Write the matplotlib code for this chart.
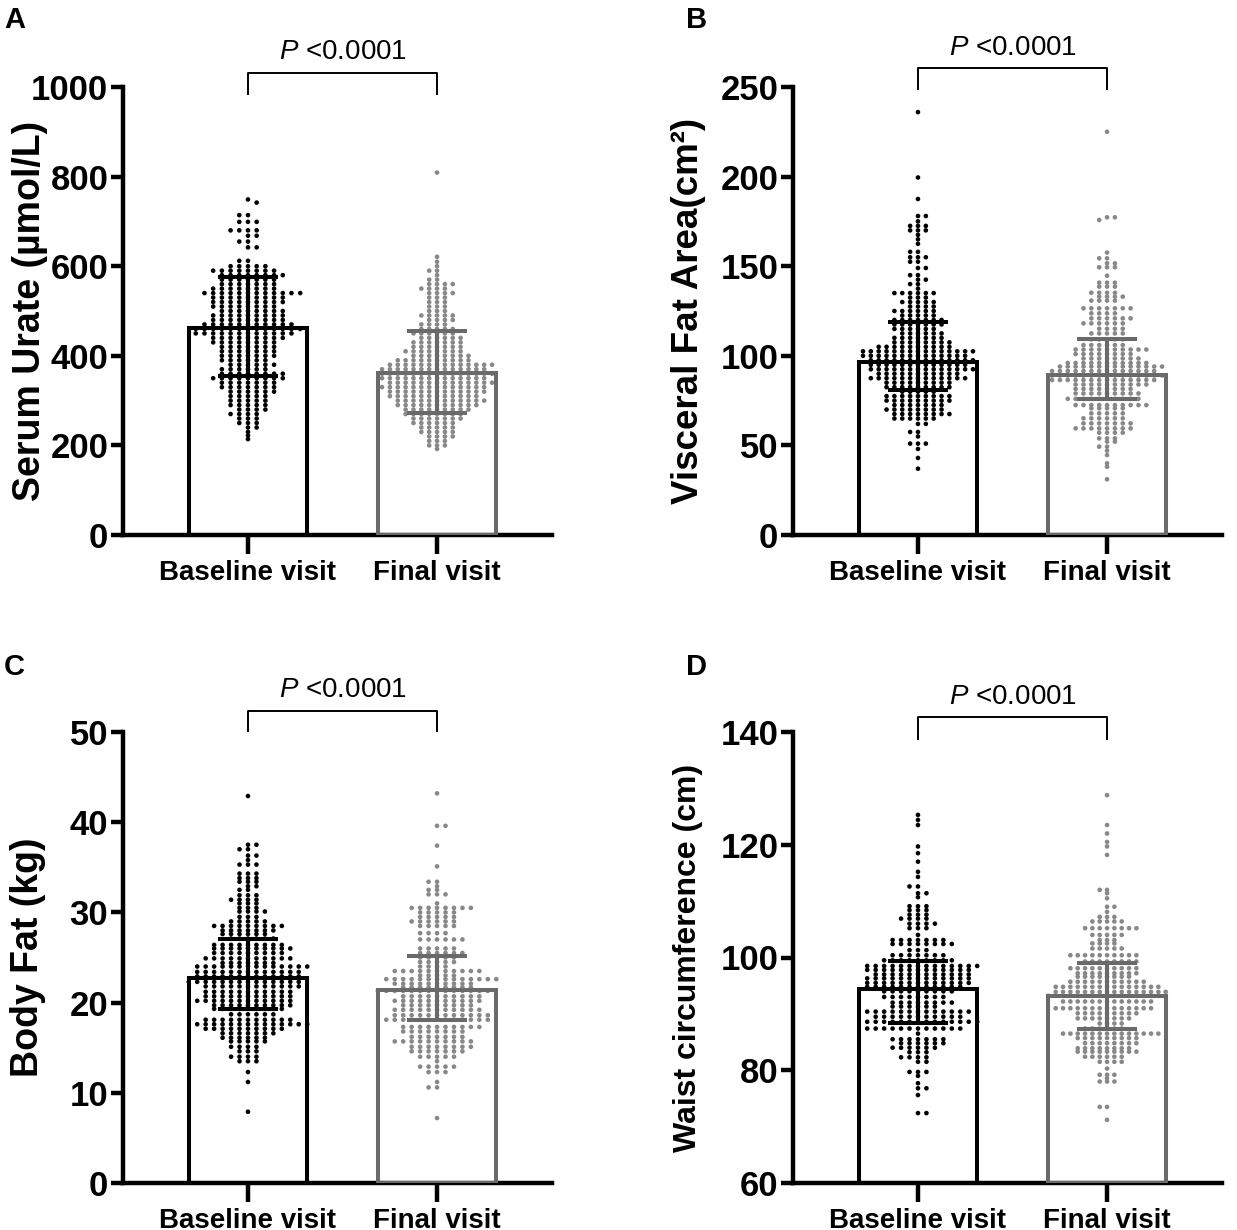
import numpy as np
import matplotlib
matplotlib.use('Agg')
import matplotlib.pyplot as plt

plt.rcParams['font.family'] = ['Liberation Sans', 'DejaVu Sans']
plt.rcParams['mathtext.fontset'] = 'custom'
plt.rcParams['mathtext.it'] = 'Liberation Sans:italic'
plt.rcParams['mathtext.rm'] = 'Liberation Sans'

W, H = 1237, 1230
groups = ['Baseline visit', 'Final visit']

# ---- values: dot levels and number of dots at each level ----
# A: serum urate (umol/L)
urate_base_levels = [749, 742, 714, 699, 680, 668, 655, 642, 612,
                     600, 590, 580, 570, 560, 550, 540, 530, 520, 510, 500, 490, 480, 470, 460,
                     450, 440, 430, 420, 410, 400, 390, 380, 370, 360, 350, 340, 330, 320, 310,
                     300, 290, 280, 270, 260, 250, 240, 230, 222, 214]
urate_base_counts = [1, 1, 2, 3, 4, 2, 2, 2, 2,
                     5, 8, 8, 7, 7, 8, 12, 9, 9, 8, 8, 9, 9, 11, 13,
                     12, 9, 8, 7, 7, 7, 6, 6, 6, 8, 9, 7, 7, 6, 5,
                     5, 5, 4, 4, 3, 3, 2, 1, 1, 1]
urate_final_levels = [809, 621, 610, 600, 590, 580, 570, 560, 550, 540, 530, 520, 510, 500,
                      490, 480, 470, 460, 450, 440, 430, 420, 410, 400, 390, 380, 370, 360,
                      350, 340, 330, 320, 310, 300, 290, 280, 270, 260, 250, 240, 230, 220,
                      210, 200, 192]
urate_final_counts = [1, 1, 1, 1, 2, 1, 2, 4, 4, 4, 3, 3, 3, 3,
                      5, 4, 4, 5, 6, 6, 7, 7, 8, 8, 10, 14, 14, 15,
                      14, 14, 14, 13, 12, 12, 11, 9, 8, 7, 6, 5, 5, 4,
                      3, 3, 1]
urate_bar = [463, 362]
urate_lo = [355, 273]
urate_hi = [577, 456]

# B: visceral fat area (cm2)
vfa_base_levels = [236, 199.5, 187.5, 178, 175, 172.5, 170, 167.5, 165, 162.5,
                   158, 155, 152.5, 149, 145, 142.5, 140, 137.5, 135, 132.5,
                   130, 127.5, 125, 122.5, 120, 117.5, 115, 112.5, 110, 107.5,
                   105, 102.5, 100, 97.5, 95, 92.5, 90, 87.5, 85, 82.5,
                   80, 77.5, 75, 72.5, 70, 67.5, 65, 62, 57.5, 55,
                   51, 48, 43, 37]
vfa_base_counts = [1, 1, 1, 2, 1, 3, 3, 1, 1, 1,
                   2, 3, 2, 2, 2, 2, 2, 1, 6, 3,
                   5, 4, 6, 5, 7, 7, 6, 6, 7, 8,
                   10, 15, 14, 14, 13, 14, 11, 13, 9, 9,
                   5, 9, 9, 7, 8, 8, 6, 2, 2, 1,
                   3, 1, 1, 1]
vfa_final_levels = [225, 177.3, 175.8, 157.6, 154.4, 151.6, 149.4, 144.7, 140.8, 138.6,
                    135.2, 133, 130.8, 126.5, 123.7, 120.9, 118.1, 115.1, 112.5, 109.2,
                    106, 103.5, 101, 98.5, 96, 94, 91.5, 89, 86.5, 84,
                    81.5, 79, 76, 72.5, 70.7, 67.9, 65.1, 62.3, 59.5, 57.1,
                    53.9, 52.1, 49.3, 47.1, 44.6, 40, 38.1, 31.1]
vfa_final_counts = [1, 2, 1, 1, 2, 2, 3, 1, 3, 3,
                    4, 4, 4, 7, 4, 6, 6, 4, 5, 5,
                    6, 10, 8, 8, 11, 14, 14, 15, 14, 10,
                    8, 9, 10, 10, 5, 5, 6, 7, 8, 4,
                    3, 2, 2, 1, 1, 1, 1, 1]
vfa_bar = [96.4, 89.3]
vfa_lo = [81, 75.7]
vfa_hi = [119, 109.2]

# C: body fat (kg)
fat_base_levels = [42.9, 37.5, 37, 36.3, 35.8, 35.3, 34.3, 33.8, 33.4, 32.9,
                   32.5, 31.9, 31.4, 31, 30.5, 30.1, 29.5, 29, 28.5, 28,
                   27.6, 27.1, 26.4, 26, 25.5, 24.9, 24.4, 24, 23.4, 22.9,
                   22.3, 21.8, 21.2, 20.7, 20.2, 19.7, 19.3, 18.7, 18.1, 17.6,
                   17.1, 16.6, 16.1, 15.7, 15.1, 14.6, 14, 13.5, 12.3, 11.2,
                   7.9]
fat_base_counts = [1, 2, 2, 2, 1, 3, 3, 3, 3, 2,
                   2, 3, 4, 3, 3, 4, 3, 5, 9, 7,
                   6, 6, 9, 10, 9, 11, 7, 14, 13, 13,
                   14, 12, 11, 11, 12, 10, 9, 6, 11, 14,
                   10, 7, 6, 5, 4, 3, 4, 3, 1, 1,
                   1]
fat_final_levels = [43.2, 39.6, 37.4, 35.1, 33.4, 32.9, 32.5, 32, 31, 30.5,
                    30, 29.5, 29, 28.5, 27.7, 27, 26, 25.5, 25, 24.5,
                    24, 23.5, 23, 22.6, 22.1, 21.7, 21.3, 20.7, 20.2, 19.7,
                    19.2, 18.6, 18.1, 17.3, 16.8, 16.2, 15.7, 15.1, 14.6, 14,
                    13.5, 12.9, 12.3, 11.2, 10.6, 7.2]
fat_final_counts = [1, 2, 1, 1, 2, 1, 2, 3, 1, 8,
                    5, 5, 6, 5, 4, 6, 5, 6, 5, 5,
                    4, 11, 5, 14, 10, 9, 14, 10, 11, 9,
                    11, 12, 13, 10, 8, 7, 10, 8, 7, 5,
                    1, 5, 3, 1, 2, 1]
fat_bar = [22.7, 21.4]
fat_lo = [19.3, 18.1]
fat_hi = [27.1, 25.2]

# D: waist circumference (cm)
waist_base_levels = [125.3, 124.4, 123.5, 119.7, 118.5, 117, 115.2, 114.3, 112.6, 111.4,
                     110.7, 109.1, 108.4, 107.6, 106.9, 106, 105.2, 104, 103.1, 102.4,
                     101.3, 100.4, 99.5, 98.5, 97.8, 97, 96.3, 95.5, 94.8, 94,
                     93, 92, 91.3, 90.4, 89.5, 88.6, 87.4, 86.5, 85.5, 84.8,
                     84, 83.2, 82.3, 81.5, 79.7, 79, 77.7, 76.8, 75.6, 72.4]
waist_base_counts = [1, 1, 1, 1, 1, 1, 1, 1, 2, 2,
                     1, 3, 3, 3, 4, 4, 3, 1, 7, 8,
                     3, 7, 9, 14, 13, 12, 13, 13, 12, 9,
                     8, 8, 6, 13, 11, 14, 12, 1, 7, 6,
                     6, 3, 4, 2, 3, 1, 1, 2, 1, 2]
waist_final_levels = [128.8, 123.5, 122, 120.5, 119.7, 118.2, 112, 111.4, 110.5, 109,
                      108.1, 107.2, 106.4, 105.2, 104, 103.1, 102.5, 101.6, 100.4, 99.3,
                      98.1, 97.2, 96.6, 95.7, 94.8, 93.9, 93.2, 92.2, 91, 90.1,
                      89.2, 88.3, 87.4, 86.5, 85.7, 84.8, 83.9, 83.3, 82.4, 81.5,
                      80.3, 79.2, 78.6, 78, 73.5, 71.2]
waist_final_counts = [1, 1, 1, 1, 1, 1, 2, 1, 1, 2,
                      1, 3, 5, 8, 5, 3, 4, 5, 10, 8,
                      10, 9, 8, 11, 15, 16, 16, 13, 14, 9,
                      8, 4, 6, 14, 9, 8, 8, 9, 6, 4,
                      1, 3, 1, 3, 2, 1]
waist_bar = [94.4, 93.1]
waist_lo = [88.4, 87.4]
waist_hi = [99.4, 99.1]

edge_cols = ['#000000', '#6a6a6a']
dot_cols = ['#000000', '#888888']

fig = plt.figure(figsize=(W / 100, H / 100), dpi=100)


def px_axes(l, t, r, b):
    return fig.add_axes([l / W, 1 - b / H, (r - l) / W, (b - t) / H])


def swarm(levels, counts, ypx, lane_px, xpx, min_gap=3.2):
    # GraphPad-like column scatter: each dot takes the first free lane
    xs, ys = [], []
    used = {}
    for r, (v, n) in enumerate(zip(levels, counts)):
        s = 1 if r % 2 else -1
        order = [0]
        for k in range(1, 25):
            order += [s * k, -s * k]
        for _ in range(n):
            yp = v * ypx
            for lane in order:
                if all(abs(yp - o) >= min_gap for o in used.get(lane, [])):
                    used.setdefault(lane, []).append(yp)
                    break
            xs.append(lane * lane_px / xpx)
            ys.append(v)
    return np.array(xs), np.array(ys)


def panel(rect, data, bars, lo, hi, ylim, yticks, ylabel, lab_x, lab_size,
          letter, letter_xy, brk):
    ax = px_axes(*rect)
    xlim = (-0.661, 1.608)
    ax.set_xlim(*xlim)
    ax.set_ylim(*ylim)
    xpx = (rect[2] - rect[0]) / (xlim[1] - xlim[0])
    ypx = (rect[3] - rect[1]) / (ylim[1] - ylim[0])

    for i, (levels, counts) in enumerate(data):
        lane_px = min(8.7, 110.0 / (max(counts) - 1))
        xs, ys = swarm(levels, counts, ypx, lane_px, xpx)
        ax.scatter(xs + i, ys, s=11, color=dot_cols[i], edgecolors='none',
                   zorder=2, clip_on=False)

    ax.bar([0, 1], np.array(bars) - ylim[0], bottom=ylim[0], width=0.62,
           facecolor='none', edgecolor=edge_cols, linewidth=2.9, zorder=3)
    for i in range(2):
        ax.vlines(i, lo[i], hi[i], color=edge_cols[i], lw=2.9, zorder=4)
        ax.hlines([lo[i], hi[i]], i - 0.16, i + 0.16, color=edge_cols[i],
                  lw=2.9, zorder=4)

    for side in ['top', 'right']:
        ax.spines[side].set_visible(False)
    for side in ['left', 'bottom']:
        ax.spines[side].set_linewidth(3.2)
    ax.set_yticks(yticks)
    ax.set_xticks([0, 1])
    ax.set_xticklabels(groups)
    ax.tick_params(axis='y', length=8.6, width=3.2, labelsize=25, pad=2)
    ax.tick_params(axis='x', length=13.7, width=3.2, labelsize=20, pad=4)
    for t in ax.get_yticklabels() + ax.get_xticklabels():
        t.set_fontweight('bold')

    # significance bracket
    leg, top, ptxt = brk
    trans = ax.get_xaxis_transform()
    ax.plot([0, 0, 1, 1], [leg, top, top, leg], color='black', lw=1.4,
            transform=trans, clip_on=False, solid_capstyle='butt')
    ax.text(0.5, ptxt, r'$\mathit{P}$ <0.0001', transform=trans, ha='center',
            va='center', fontsize=20)

    yc = (rect[1] + rect[3]) / 2
    fig.text(lab_x / W, 1 - yc / H, ylabel, rotation=90, ha='center',
             va='center', fontsize=lab_size, fontweight='bold')
    fig.text(letter_xy[0] / W, 1 - letter_xy[1] / H, letter, ha='center',
             va='center', fontsize=21, fontweight='bold')
    return ax


panel((123, 87, 552, 535),
      [(urate_base_levels, urate_base_counts), (urate_final_levels, urate_final_counts)],
      urate_bar, urate_lo, urate_hi, (0, 1000), [0, 200, 400, 600, 800, 1000],
      'Serum Urate (\u00b5mol/L)', 30, 27, 'A', (15, 20), (0.982, 1.031, 1.078))

panel((793, 87, 1222, 535),
      [(vfa_base_levels, vfa_base_counts), (vfa_final_levels, vfa_final_counts)],
      vfa_bar, vfa_lo, vfa_hi, (0, 250), [0, 50, 100, 150, 200, 250],
      'Visceral Fat Area(cm\u00b2)', 688, 26.5, 'B', (697, 20), (0.993, 1.042, 1.087))

panel((123, 732, 552, 1183),
      [(fat_base_levels, fat_base_counts), (fat_final_levels, fat_final_counts)],
      fat_bar, fat_lo, fat_hi, (0, 50), [0, 10, 20, 30, 40, 50],
      'Body Fat (kg)', 28, 27, 'C', (14, 667), (1.0, 1.047, 1.093))

panel((793, 732, 1222, 1183),
      [(waist_base_levels, waist_base_counts), (waist_final_levels, waist_final_counts)],
      waist_bar, waist_lo, waist_hi, (60, 140), [60, 80, 100, 120, 140],
      'Waist circumference (cm)', 688, 23, 'D', (697, 667), (0.982, 1.033, 1.078))

fig.savefig('out.png', dpi=100)
